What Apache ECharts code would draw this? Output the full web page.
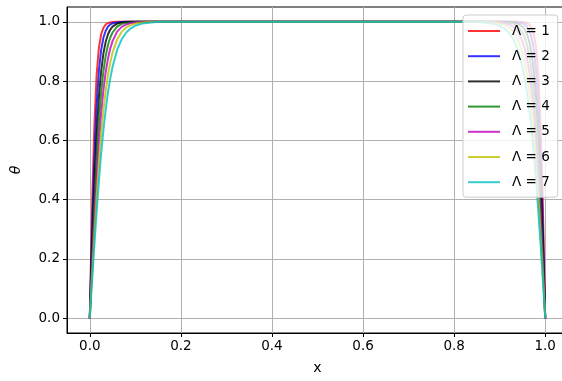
<!DOCTYPE html>
<html>
<head>
<meta charset="utf-8">
<script src="https://cdn.jsdelivr.net/npm/echarts@6/dist/echarts.min.js"></script>
<style>html,body{margin:0;padding:0;background:#fff}#c{width:562px;height:381px}</style>
</head>
<body>
<div id="c"></div>
<script>
var xs = [0, 0.003, 0.006, 0.01, 0.015, 0.02, 0.025, 0.03, 0.035, 0.04, 0.045, 0.05, 0.06, 0.07, 0.08, 0.09, 0.1, 0.115, 0.13, 0.145, 0.17, 0.2, 0.25,
          0.5,
          0.75, 0.8, 0.83, 0.855, 0.87, 0.885, 0.9, 0.91, 0.92, 0.93, 0.94, 0.95, 0.955, 0.96, 0.965, 0.97, 0.975, 0.98, 0.985, 0.99, 0.994, 0.997, 1.0];
var theta1 = [0, 0.227, 0.432, 0.647, 0.820, 0.912, 0.958, 0.980, 0.991, 0.996, 0.998, 0.999, 1, 1, 1, 1, 1, 1, 1, 1, 1, 1, 1,
              1,
              1, 1, 1, 1, 1, 1, 1, 1, 1, 1, 1, 0.999, 0.998, 0.996, 0.991, 0.980, 0.958, 0.912, 0.820, 0.647, 0.432, 0.227, 0];
var theta2 = [0, 0.178, 0.345, 0.537, 0.716, 0.834, 0.905, 0.947, 0.970, 0.984, 0.991, 0.995, 0.998, 0.999, 1, 1, 1, 1, 1, 1, 1, 1, 1,
              1,
              1, 1, 1, 1, 1, 1, 1, 1, 1, 0.999, 0.998, 0.995, 0.991, 0.984, 0.970, 0.947, 0.905, 0.834, 0.716, 0.537, 0.345, 0.178, 0];
var theta3 = [0, 0.143, 0.280, 0.446, 0.617, 0.744, 0.834, 0.894, 0.933, 0.958, 0.974, 0.984, 0.994, 0.998, 0.999, 1, 1, 1, 1, 1, 1, 1, 1,
              1,
              1, 1, 1, 1, 1, 1, 1, 1, 0.999, 0.998, 0.994, 0.984, 0.974, 0.958, 0.933, 0.894, 0.834, 0.744, 0.617, 0.446, 0.280, 0.143, 0];
var theta4 = [0, 0.119, 0.235, 0.380, 0.537, 0.664, 0.762, 0.834, 0.885, 0.922, 0.947, 0.964, 0.984, 0.993, 0.997, 0.998, 0.999, 1, 1, 1, 1, 1, 1,
              1,
              1, 1, 1, 1, 1, 1, 0.999, 0.998, 0.997, 0.993, 0.984, 0.964, 0.947, 0.922, 0.885, 0.834, 0.762, 0.664, 0.537, 0.380, 0.235, 0.119, 0];
var theta5 = [0, 0.102, 0.201, 0.327, 0.470, 0.592, 0.691, 0.770, 0.831, 0.876, 0.910, 0.935, 0.967, 0.983, 0.991, 0.996, 0.998, 0.999, 1, 1, 1, 1, 1,
              1,
              1, 1, 1, 1, 1, 0.999, 0.998, 0.996, 0.991, 0.983, 0.967, 0.935, 0.910, 0.876, 0.831, 0.770, 0.691, 0.592, 0.470, 0.327, 0.201, 0.102, 0];
var theta6 = [0, 0.087, 0.172, 0.282, 0.409, 0.523, 0.620, 0.701, 0.768, 0.821, 0.863, 0.896, 0.940, 0.966, 0.981, 0.989, 0.994, 0.998, 0.999, 1, 1, 1, 1,
              1,
              1, 1, 1, 1, 0.999, 0.998, 0.994, 0.989, 0.981, 0.966, 0.940, 0.896, 0.863, 0.821, 0.768, 0.701, 0.620, 0.523, 0.409, 0.282, 0.172, 0.087, 0];
var theta7 = [0, 0.075, 0.149, 0.245, 0.358, 0.462, 0.555, 0.635, 0.704, 0.762, 0.809, 0.848, 0.905, 0.941, 0.964, 0.978, 0.987, 0.994, 0.997, 0.999, 1, 1, 1,
              1,
              1, 1, 1, 0.999, 0.997, 0.994, 0.987, 0.978, 0.964, 0.941, 0.905, 0.848, 0.809, 0.762, 0.704, 0.635, 0.555, 0.462, 0.358, 0.245, 0.149, 0.075, 0];
var names = ['Λ = 1', 'Λ = 2', 'Λ = 3', 'Λ = 4', 'Λ = 5', 'Λ = 6', 'Λ = 7'];
var colors = ['rgba(255,0,0,0.8)', 'rgba(0,0,255,0.8)', 'rgba(0,0,0,0.8)', 'rgba(0,128,0,0.8)',
              'rgba(191,0,191,0.8)', 'rgba(191,191,0,0.8)', 'rgba(0,191,191,0.8)'];
var xTicks = [0, 0.2, 0.4, 0.6, 0.8, 1.0];
var yTicks = [0, 0.2, 0.4, 0.6, 0.8, 1.0];
var allTheta = [theta1, theta2, theta3, theta4, theta5, theta6, theta7];

var font = 'DejaVu Sans';
var series = allTheta.map(function (th, i) {
  return {
    name: names[i], type: 'line', showSymbol: false, symbol: 'none', smooth: false,
    lineStyle: { width: 2, color: colors[i] }, itemStyle: { color: colors[i] },
    data: xs.map(function (x, j) { return [x, th[j]]; })
  };
});

var chart = echarts.init(document.getElementById('c'), null, { renderer: 'canvas' });
chart.setOption({
  animation: false,
  color: colors,
  grid: { left: 67, top: 7, width: 501, height: 326, outerBoundsMode: 'none', containLabel: false,
          show: true, borderColor: '#000', borderWidth: 1, backgroundColor: 'transparent' },
  legend: {
    orient: 'vertical', left: 463, top: 15,
    icon: 'rect', itemWidth: 32, itemHeight: 2, itemGap: 9.2,
    padding: [8, 8, 7, 5],
    backgroundColor: 'rgba(255,255,255,0.8)', borderColor: '#cccccc', borderWidth: 1, borderRadius: 3,
    textStyle: { fontFamily: font, fontSize: 13.5, color: '#000', lineHeight: 16, padding: [0, 0, 0, 7] },
    data: names
  },
  xAxis: {
    type: 'value', min: -0.05, max: 1.05,
    name: 'x', nameLocation: 'middle', nameGap: 28,
    nameTextStyle: { fontFamily: font, fontSize: 14, color: '#000' },
    axisLine: { show: true, onZero: false, lineStyle: { color: '#000', width: 1 } },
    axisTick: { show: true, length: 4, customValues: xTicks, lineStyle: { color: '#000' } },
    axisLabel: { customValues: xTicks, fontFamily: font, fontSize: 13.5, color: '#000', margin: 6,
                 formatter: function (v) { return v.toFixed(1); } },
    splitLine: { show: true, lineStyle: { color: '#b0b0b0', width: 1 } }
  },
  yAxis: {
    type: 'value', min: -0.05, max: 1.05,
    name: 'θ', nameLocation: 'middle', nameGap: 44,
    nameTextStyle: { fontFamily: font, fontSize: 14, color: '#000', fontStyle: 'italic' },
    axisLine: { show: true, onZero: false, lineStyle: { color: '#000', width: 1 } },
    axisTick: { show: true, length: 4, customValues: yTicks, lineStyle: { color: '#000' } },
    axisLabel: { customValues: yTicks, fontFamily: font, fontSize: 13.5, color: '#000', margin: 7,
                 formatter: function (v) { return v.toFixed(1); } },
    splitLine: { show: true, lineStyle: { color: '#b0b0b0', width: 1 } }
  },
  series: series
});
</script>
</body>
</html>
